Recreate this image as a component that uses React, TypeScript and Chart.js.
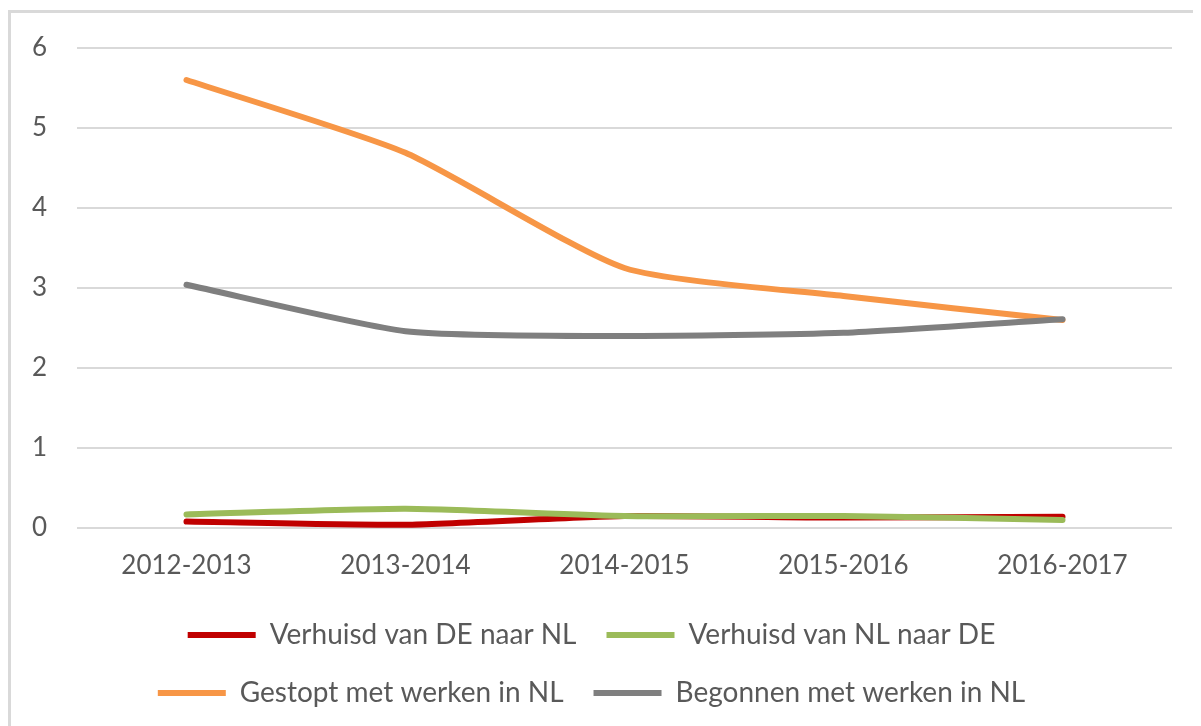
import React, { useEffect, useRef } from "react";
import { Chart, registerables } from "chart.js";

Chart.register(...registerables);

const categories = ["2012-2013", "2013-2014", "2014-2015", "2015-2016", "2016-2017"];
const seriesNames = [
  "Verhuisd van DE naar NL",
  "Verhuisd van NL naar DE",
  "Gestopt met werken in NL",
  "Begonnen met werken in NL",
];
const verhuisdDeNl = [0.08, 0.04, 0.15, 0.13, 0.14];
const verhuisdNlDe = [0.17, 0.24, 0.15, 0.15, 0.1];
const gestopt = [5.6, 4.69, 3.25, 2.9, 2.6];
const begonnen = [3.04, 2.46, 2.4, 2.44, 2.61];
const colors = ["#C00000", "#9BBB59", "#F79646", "#7F7F7F"];

const FONT = "Lato";
const TEXT = "#595959";

export default function App() {
  const ref = useRef<HTMLCanvasElement | null>(null);

  useEffect(() => {
    if (!ref.current) return;
    const values = [verhuisdDeNl, verhuisdNlDe, gestopt, begonnen];
    const chart = new Chart(ref.current, {
      type: "line",
      data: {
        labels: categories,
        datasets: values.map((v, i) => ({
          label: seriesNames[i],
          data: v,
          borderColor: colors[i],
          backgroundColor: colors[i],
          borderWidth: 6,
          borderCapStyle: "round" as const,
          borderJoinStyle: "round" as const,
          pointRadius: 0,
          tension: 0.2,
          fill: false,
          order: 4 - i,
        })),
      },
      options: {
        animation: false,
        responsive: false,
        layout: { padding: { top: 35, right: 25, bottom: 36, left: 0 } },
        plugins: {
          tooltip: { enabled: false },
          legend: {
            position: "bottom",
            labels: {
              font: { family: FONT, size: 28 },
              color: TEXT,
              boxWidth: 68,
              boxHeight: 6,
              padding: 30,
              sort: (a: any, b: any) => a.datasetIndex - b.datasetIndex,
              generateLabels: (c: any) => {
                const items = Chart.defaults.plugins.legend.labels.generateLabels(c);
                return items.map((it: any) => ({
                  ...it,
                  fillStyle: colors[it.datasetIndex],
                  strokeStyle: colors[it.datasetIndex],
                  lineWidth: 0,
                }));
              },
            },
          },
        },
        scales: {
          x: {
            offset: true,
            grid: { display: false, drawTicks: false },
            border: { display: false },
            ticks: { font: { family: FONT, size: 26 }, color: TEXT, padding: 22 },
            afterFit: (s: any) => {
              s.height = 63;
            },
          },
          y: {
            min: 0,
            max: 6,
            grid: { color: "#D9D9D9", lineWidth: 2, drawTicks: false },
            border: { display: false },
            ticks: { stepSize: 1, font: { family: FONT, size: 26 }, color: TEXT, padding: 30 },
            afterFit: (s: any) => {
              s.width = 66;
              s.paddingTop = 0;
              s.paddingBottom = 0;
            },
          },
        },
      },
    });
    return () => chart.destroy();
  }, []);

  return (
    <div
      style={{
        width: 1186,
        height: 740,
        marginTop: 2,
        border: "3px solid #D9D9D9",
        background: "#fff",
      }}
    >
      <canvas ref={ref} width={1186} height={740} style={{ display: "block" }} />
    </div>
  );
}
